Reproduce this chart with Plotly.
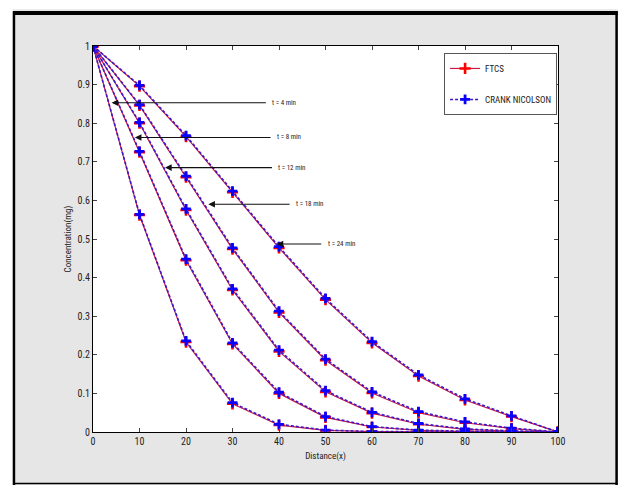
import plotly.graph_objects as go

distance = [0, 10, 20, 30, 40, 50, 60, 70, 80, 90, 100]
times = ["t = 4 min", "t = 8 min", "t = 12 min", "t = 18 min", "t = 24 min"]

cn_t4 = [1, 0.564, 0.236, 0.076, 0.020, 0.005, 0.001, 0.0003, 0.0001, 0.0, 0]
cn_t8 = [1, 0.727, 0.448, 0.231, 0.103, 0.040, 0.014, 0.005, 0.002, 0.001, 0]
cn_t12 = [1, 0.802, 0.578, 0.371, 0.212, 0.107, 0.051, 0.022, 0.008, 0.003, 0]
cn_t18 = [1, 0.848, 0.663, 0.477, 0.313, 0.189, 0.104, 0.053, 0.026, 0.010, 0]
cn_t24 = [1, 0.898, 0.768, 0.624, 0.480, 0.346, 0.234, 0.148, 0.086, 0.042, 0]

ftcs_t4 = [1, 0.562, 0.233, 0.073, 0.018, 0.004, 0.001, 0.0002, 0.0001, 0.0, 0]
ftcs_t8 = [1, 0.725, 0.445, 0.228, 0.100, 0.038, 0.013, 0.004, 0.001, 0.0005, 0]
ftcs_t12 = [1, 0.800, 0.575, 0.368, 0.209, 0.104, 0.049, 0.020, 0.007, 0.002, 0]
ftcs_t18 = [1, 0.846, 0.660, 0.474, 0.310, 0.186, 0.101, 0.050, 0.024, 0.009, 0]
ftcs_t24 = [1, 0.896, 0.765, 0.621, 0.477, 0.343, 0.231, 0.145, 0.083, 0.040, 0]

cn_series = [cn_t4, cn_t8, cn_t12, cn_t18, cn_t24]
ftcs_series = [ftcs_t4, ftcs_t8, ftcs_t12, ftcs_t18, ftcs_t24]

# annotation arrows: head x, head y, tail x
arrow_heads_x = [4.0, 9.0, 15.5, 24.8, 39.5]
arrow_heads_y = [0.853, 0.763, 0.685, 0.590, 0.487]
arrow_tails_x = [37.5, 38.5, 38.8, 42.6, 49.4]

y_ticks = [0, 0.1, 0.2, 0.3, 0.4, 0.5, 0.6, 0.7, 0.8, 0.9, 1]
y_tick_labels = ["0", "0.1", "0.2", "0.3", "0.4", "0.5", "0.6", "0.7", "0.8", "0.9", "1"]
x_ticks = [0, 10, 20, 30, 40, 50, 60, 70, 80, 90, 100]

FONT = "Liberation Sans Narrow, Roboto Condensed, DejaVu Sans Condensed, Liberation Sans, Arial, sans-serif"

fig = go.Figure()

for i, ys in enumerate(ftcs_series):
    fig.add_trace(go.Scatter(
        x=distance, y=ys, mode="lines+markers", name="FTCS",
        legendgroup="ftcs", showlegend=(i == 0),
        line=dict(color="#c81848", width=1.2),
        marker=dict(symbol="cross-thin", size=8, line=dict(color="#ff0000", width=2.6)),
    ))
for i, ys in enumerate(cn_series):
    fig.add_trace(go.Scatter(
        x=distance, y=ys, mode="lines+markers", name="CRANK NICOLSON",
        legendgroup="cn", showlegend=(i == 0),
        line=dict(color="#3a18c8", width=1.6, dash="3px,2px"),
        marker=dict(symbol="cross-thin", size=7, line=dict(color="#0a00ff", width=2.8)),
    ))

for hx, hy, tx, label in zip(arrow_heads_x, arrow_heads_y, arrow_tails_x, times):
    fig.add_annotation(x=hx, y=hy, ax=tx, ay=hy, xref="x", yref="y", axref="x", ayref="y",
                       text="", showarrow=True, arrowhead=2, arrowsize=1.1, arrowwidth=1.2,
                       arrowcolor="#111111")
    fig.add_annotation(x=tx + 0.6, y=hy, xref="x", yref="y", text=label, showarrow=False,
                       xanchor="left", yanchor="middle",
                       font=dict(family=FONT, size=7, color="#222222"))

# outer frame: white strips and black border
shapes = [
    dict(type="rect", xref="paper", yref="paper", x0=-0.3, x1=1.2, y0=1.095, y1=1.2,
         fillcolor="white", line=dict(width=0), layer="above"),
    dict(type="rect", xref="paper", yref="paper", x0=-0.3, x1=-0.172, y0=-0.2, y1=1.2,
         fillcolor="white", line=dict(width=0), layer="above"),
    dict(type="rect", xref="paper", yref="paper", x0=1.1285, x1=1.2, y0=-0.2, y1=1.2,
         fillcolor="white", line=dict(width=0), layer="above"),
    dict(type="line", xref="paper", yref="paper", x0=-0.172, x1=1.1285, y0=1.0855, y1=1.0855,
         line=dict(color="black", width=4), layer="above"),
    dict(type="line", xref="paper", yref="paper", x0=-0.17, x1=-0.17, y0=-0.2, y1=1.09,
         line=dict(color="black", width=2.5), layer="above"),
    dict(type="line", xref="paper", yref="paper", x0=1.126, x1=1.126, y0=-0.2, y1=1.09,
         line=dict(color="black", width=2.5), layer="above"),
    dict(type="line", xref="paper", yref="paper", x0=-0.172, x1=1.1285, y0=-0.1335, y1=-0.1335,
         line=dict(color="black", width=1.5), layer="above"),
]

fig.update_layout(
    width=619, height=485,
    margin=dict(l=93, r=61, t=46, b=53),
    paper_bgcolor="#e6e6e6",
    plot_bgcolor="white",
    font=dict(family=FONT, size=9, color="#222222"),
    showlegend=True,
    legend=dict(x=0.998, y=0.982, xanchor="right", yanchor="top",
                bgcolor="white", bordercolor="#555555", borderwidth=1,
                tracegroupgap=12, traceorder="grouped",
                font=dict(family=FONT, size=9, color="#222222"),
                itemwidth=30),
    shapes=shapes,
)

fig.update_xaxes(range=[0, 100], tickvals=x_ticks, ticks="inside", ticklen=4,
                 showgrid=False, zeroline=False, showline=True, linecolor="black",
                 linewidth=1, mirror="ticks", tickfont=dict(size=10),
                 title=dict(text="Distance(x)", font=dict(size=9), standoff=6))
fig.update_yaxes(range=[0, 1], tickvals=y_ticks, ticktext=y_tick_labels, ticks="inside",
                 ticklen=4, showgrid=False, zeroline=False, showline=True,
                 linecolor="black", linewidth=1, mirror="ticks", tickfont=dict(size=10),
                 title=dict(text="Concentration(mg)", font=dict(size=9), standoff=4))

fig.write_html("out.html", config={"displayModeBar": False},
               post_script="document.body.style.margin='0';document.body.style.padding='0';")
